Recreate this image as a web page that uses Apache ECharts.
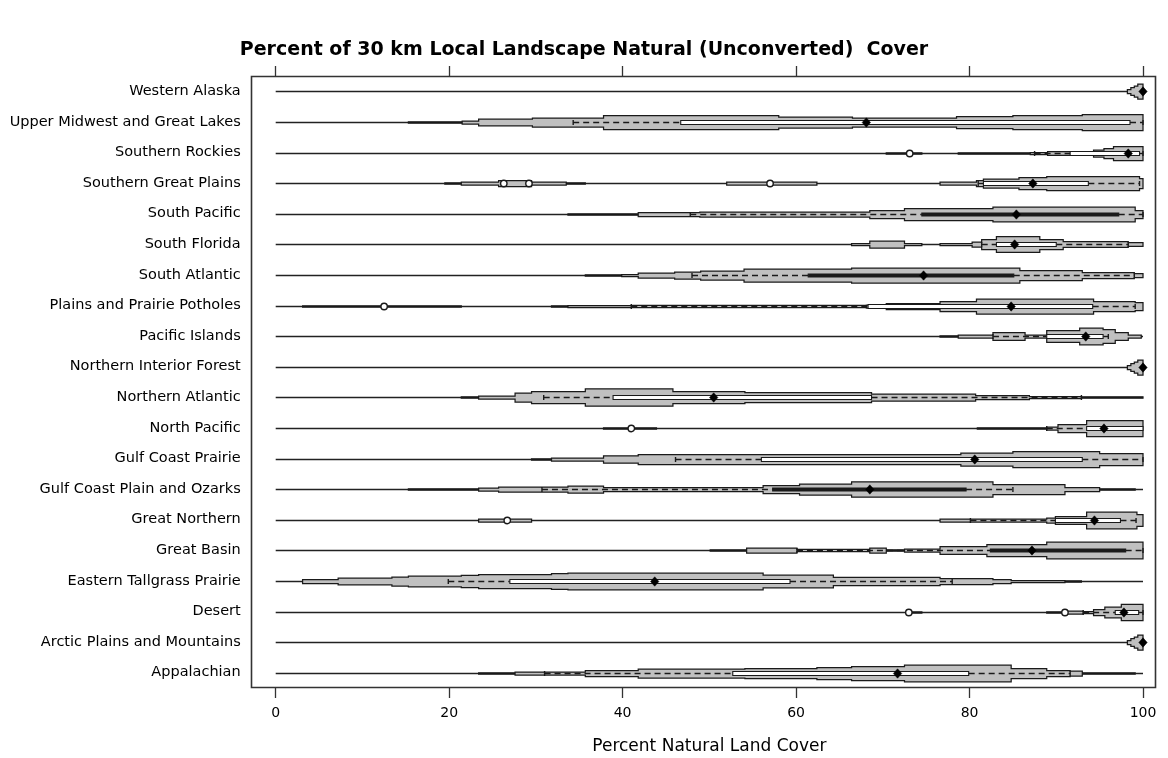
<!DOCTYPE html>
<html>
<head>
<meta charset="utf-8">
<title>Percent of 30 km Local Landscape Natural (Unconverted) Cover</title>
<script src="https://cdn.jsdelivr.net/npm/echarts@6/dist/echarts.min.js"></script>
<style>
  html, body { margin: 0; padding: 0; background: #fff; }
  #chart { width: 1168px; height: 758px; }
</style>
</head>
<body>
<div id="chart"></div>
<script>
// Regions, listed top to bottom
const regions = [
  'Western Alaska', 'Upper Midwest and Great Lakes', 'Southern Rockies',
  'Southern Great Plains', 'South Pacific', 'South Florida', 'South Atlantic',
  'Plains and Prairie Potholes', 'Pacific Islands', 'Northern Interior Forest',
  'Northern Atlantic', 'North Pacific', 'Gulf Coast Prairie',
  'Gulf Coast Plain and Ozarks', 'Great Northern', 'Great Basin',
  'Eastern Tallgrass Prairie', 'Desert', 'Arctic Plains and Mountains', 'Appalachian'
];

// Box-plot summaries (percent natural land cover)
const medians   = [100, 68.1, 98.3, 87.3, 85.4, 85.2, 74.7, 84.8, 93.4, 100, 50.5, 95.5, 80.6, 68.5, 94.4, 87.2, 43.7, 97.8, 100, 71.7];
const lowerQ    = [null, 46.7, 91.6, 81.6, 74.5, 83.1, 61.4, 68.3, 88.9, null, 38.9, 93.5, 56.0, 57.3, 89.9, 82.4, 27.0, 96.8, null, 52.7];
const upperQ    = [null, 98.5, 99.6, 93.7, 97.2, 90.0, 85.1, 94.2, 95.4, null, 68.7, 100, 93.0, 79.6, 97.4, 98.0, 59.3, 99.5, null, 79.9];
const whiskerLo = [null, 34.3, 87.5, 81.0, 47.8, 81.4, 48.0, 41.0, 82.7, null, 30.9, 88.9, 46.1, 30.7, 80.1, 60.1, 19.9, 93.1, null, 31.0];
const whiskerHi = [null, 100, 100, 99.6, 100, 98.3, 99.0, 99.1, 96.0, null, 92.9, 100, 100, 85.0, 99.2, 100, 78.0, 100, null, 91.6];

// Outlying landscapes
const outliers = [
  [], [], [73.1], [26.3, 29.2, 57.0], [], [], [], [12.5], [], [],
  [], [41.0], [], [], [26.7], [], [], [73.0, 91.0], [], []
];

// Density histogram bins: [from, to, relative density]
const density = [
  [[98.2, 98.6, 2], [98.6, 99.0, 3.8], [99.0, 99.4, 5.5], [99.4, 100, 7.5]],
  [[15.3, 21.5, 0.7], [21.5, 23.4, 1.5], [23.4, 29.6, 3.3], [29.6, 37.8, 4.5], [37.8, 58, 7], [58, 66.5, 5.5], [66.5, 78.5, 4.5], [78.5, 85, 6], [85, 93, 7], [93, 100, 8]],
  [[70.4, 74.5, 0.6], [78.7, 87, 0.6], [87, 89, 1], [89, 94.3, 1.8], [94.3, 95.5, 3.5], [95.5, 96.6, 5], [96.6, 100, 7]],
  [[19.5, 21.4, 0.6], [21.4, 25.7, 1.5], [25.7, 29.5, 3], [29.5, 33.5, 1.5], [33.5, 35.7, 0.6], [52, 62.4, 1.5], [76.6, 80.8, 1.5], [80.8, 81.6, 3], [81.6, 85.7, 4.5], [85.7, 88.9, 6], [88.9, 99.6, 7], [99.6, 100, 5]],
  [[33.7, 41.8, 0.6], [41.8, 48.9, 2], [48.9, 68.5, 2.5], [68.5, 72.5, 4], [72.5, 82.7, 6], [82.7, 99.1, 7.3], [99.1, 100, 4]],
  [[66.4, 68.5, 1], [68.5, 72.5, 3.5], [72.5, 74.5, 1], [76.6, 80.3, 1], [80.3, 81.4, 2.5], [81.4, 83.1, 5], [83.1, 88.1, 7.8], [88.1, 90.8, 5], [90.8, 98.3, 2.8], [98.3, 100, 1.8]],
  [[35.7, 39.9, 0.6], [39.9, 41.8, 1], [41.8, 46, 2.5], [46, 49, 3.5], [49, 54, 4.5], [54, 66.4, 6.5], [66.4, 85.8, 7.5], [85.8, 93, 5], [93, 99, 3], [99, 100, 2]],
  [[3.1, 21.4, 0.6], [31.8, 33.7, 0.6], [33.7, 41, 1], [41, 68.1, 1.2], [68.1, 70.4, 1.5], [70.4, 76.6, 3], [76.6, 80.8, 5], [80.8, 94.3, 7.5], [94.3, 99.1, 5], [99.1, 100, 4]],
  [[76.6, 78.7, 0.6], [78.7, 82.7, 1.5], [82.7, 86.4, 3.8], [86.4, 88.9, 1.5], [88.9, 92.7, 5.8], [92.7, 95.4, 8.3], [95.4, 96.8, 6.8], [96.8, 98.3, 3.8], [98.3, 99.8, 1.5]],
  [[98.2, 98.6, 2], [98.6, 99.0, 3.8], [99.0, 99.4, 5.5], [99.4, 100, 7.5]],
  [[21.4, 23.4, 0.6], [23.4, 27.6, 1.5], [27.6, 29.5, 4.5], [29.5, 35.7, 6], [35.7, 45.8, 8.7], [45.8, 54.1, 6], [54.1, 68.7, 5], [68.7, 80.7, 3.5], [80.7, 86.9, 2], [86.9, 92.9, 1], [92.9, 100, 0.6]],
  [[37.8, 43.9, 0.6], [80.9, 88.9, 0.6], [88.9, 90.2, 1.5], [90.2, 93.5, 4], [93.5, 100, 8]],
  [[29.5, 31.8, 0.6], [31.8, 37.8, 1.5], [37.8, 41.8, 3.7], [41.8, 79, 5], [79, 85, 6.5], [85, 95, 8], [95, 100, 6]],
  [[15.3, 23.4, 0.6], [23.4, 25.7, 1.5], [25.7, 33.7, 2.5], [33.7, 37.8, 3.5], [37.8, 56.2, 2], [56.2, 60.4, 4], [60.4, 66.4, 5.5], [66.4, 82.7, 7.7], [82.7, 91, 5], [91, 95, 2], [95, 99.1, 0.6]],
  [[23.4, 29.5, 1.5], [76.6, 88.9, 1.5], [88.9, 89.9, 2.5], [89.9, 93.5, 3.8], [93.5, 99.3, 8.3], [99.3, 100, 5.8]],
  [[50.1, 54.3, 0.6], [54.3, 60.1, 2.5], [60.1, 68.5, 1.2], [68.5, 70.4, 2.5], [70.4, 72.5, 0.6], [72.5, 76.6, 1.5], [76.6, 82, 3.8], [82, 88.9, 6], [88.9, 100, 8.3]],
  [[3.1, 7.2, 2], [7.2, 13.4, 3.3], [13.4, 15.3, 4.5], [15.3, 21.4, 5.3], [21.4, 23.4, 6.2], [23.4, 31.8, 7], [31.8, 33.7, 7.8], [33.7, 56.2, 8.3], [56.2, 64.3, 6.3], [64.3, 76.6, 4.2], [76.6, 82.7, 3], [82.7, 84.8, 2], [84.8, 91, 1], [91, 92.9, 0.6]],
  [[73, 74.5, 0.6], [88.9, 91, 0.6], [91, 93.1, 1.5], [93.1, 94.3, 1], [94.3, 95.6, 3], [95.6, 97.5, 5.3], [97.5, 100, 8.2]],
  [[98.2, 98.6, 2], [98.6, 99.0, 3.8], [99.0, 99.4, 5.5], [99.4, 100, 7.5]],
  [[23.4, 27.6, 0.6], [27.6, 35.7, 1.5], [35.7, 41.8, 3], [41.8, 54.1, 4.5], [54.1, 62.4, 5], [62.4, 66.4, 6], [66.4, 72.5, 7], [72.5, 84.8, 8.3], [84.8, 88.9, 5], [88.9, 91.6, 3], [91.6, 93, 2.5], [93, 99.1, 0.6]]
];

const xTicks = [0, 20, 40, 60, 80, 100];

// Regions whose interquartile box is drawn filled
const filledBoxes = new Set(['South Pacific', 'South Atlantic', 'Gulf Coast Plain and Ozarks', 'Great Basin']);

const INK = '#1a1a1a';
const VIOLIN = '#c0c0c0';

function renderRow(params, api) {
  const i = params.dataIndex;
  const band = api.size([0, 1])[1];
  const k = band / 30.6;
  const cy = Math.round(api.coord([0, i])[1]) + 0.5;
  const X = v => api.coord([v, i])[0];
  const kids = [];

  // reference line across the full range
  kids.push({ type: 'line', shape: { x1: X(0), y1: cy, x2: X(100), y2: cy },
              style: { stroke: '#222', lineWidth: 1.3 } });

  // density outline, split into contiguous runs
  const bins = density[i];
  let run = [];
  const flush = () => {
    if (!run.length) return;
    const top = [], bot = [];
    run.forEach(([a, b, d]) => {
      const h = d * k;
      top.push([X(a), cy - h], [X(b), cy - h]);
      bot.push([X(a), cy + h], [X(b), cy + h]);
    });
    kids.push({ type: 'polygon', shape: { points: top.concat(bot.reverse()) },
                style: { fill: VIOLIN, stroke: INK, lineWidth: 1.25 } });
    run = [];
  };
  bins.forEach(bin => {
    if (run.length && Math.abs(run[run.length - 1][1] - bin[0]) > 0.01) flush();
    run.push(bin);
  });
  flush();

  // whiskers and interquartile box
  if (lowerQ[i] != null) {
    const dash = { stroke: INK, lineWidth: 1.4, lineDash: [6, 4] };
    const q1 = X(lowerQ[i]), q3 = X(upperQ[i]);
    const wl = X(whiskerLo[i]), wh = X(whiskerHi[i]);
    if (wl < q1) {
      kids.push({ type: 'line', shape: { x1: wl, y1: cy, x2: q1, y2: cy }, style: dash });
      kids.push({ type: 'line', shape: { x1: wl, y1: cy - 2.5, x2: wl, y2: cy + 2.5 }, style: { stroke: INK, lineWidth: 1.4 } });
    }
    if (wh > q3) {
      kids.push({ type: 'line', shape: { x1: q3, y1: cy, x2: wh, y2: cy }, style: dash });
      kids.push({ type: 'line', shape: { x1: wh, y1: cy - 2.5, x2: wh, y2: cy + 2.5 }, style: { stroke: INK, lineWidth: 1.4 } });
    }
    const solid = filledBoxes.has(regions[i]);
    kids.push({ type: 'rect',
                shape: { x: q1, y: cy - (solid ? 1.5 : 2), width: q3 - q1, height: solid ? 3 : 4 },
                style: { fill: solid ? INK : '#fff', stroke: INK, lineWidth: 1.1 } });
  }

  // outlying values
  outliers[i].forEach(v => {
    kids.push({ type: 'circle', shape: { cx: X(v), cy: cy, r: 3.2 },
                style: { fill: '#fff', stroke: INK, lineWidth: 1.4 } });
  });

  // median marker
  const mx = X(medians[i]);
  kids.push({ type: 'polygon',
              shape: { points: [[mx - 4.2, cy], [mx, cy - 4.7], [mx + 4.2, cy], [mx, cy + 4.7]] },
              style: { fill: '#000', stroke: '#000', lineWidth: 0.5 } });

  return { type: 'group', children: kids };
}

const chart = echarts.init(document.getElementById('chart'), null, { renderer: 'canvas' });

const GRID = { left: 275.7, right: 25, top: 76, bottom: 70, outerBoundsMode: 'none', containLabel: false };

chart.setOption({
  animation: false,
  backgroundColor: '#fff',
  textStyle: { fontFamily: 'DejaVu Sans' },
  title: {
    text: 'Percent of 30 km Local Landscape Natural (Unconverted)  Cover',
    left: 'center',
    top: 36,
    textStyle: { fontFamily: 'DejaVu Sans', fontWeight: 'bold', fontSize: 19, color: '#000' }
  },
  grid: GRID,
  xAxis: [
    {
      type: 'value', position: 'bottom', min: 0, max: 100, interval: 20,
      axisLine: { show: false },
      axisTick: { show: true, inside: false, length: 10, lineStyle: { color: '#333', width: 1.3 },
                  customValues: xTicks },
      axisLabel: { color: '#000', fontSize: 14, margin: 18, customValues: xTicks },
      splitLine: { show: false },
      name: 'Percent Natural Land Cover',
      nameLocation: 'middle', nameGap: 50,
      nameTextStyle: { color: '#000', fontSize: 17 }
    },
    {
      type: 'value', position: 'top', min: 0, max: 100, interval: 20,
      axisLine: { show: false },
      axisTick: { show: true, inside: false, length: 10, lineStyle: { color: '#333', width: 1.3 },
                  customValues: xTicks },
      axisLabel: { show: false },
      splitLine: { show: false }
    }
  ],
  yAxis: {
    type: 'category', data: regions, inverse: true,
    axisLine: { show: false }, axisTick: { show: false },
    axisLabel: { color: '#000', fontSize: 14.5, margin: 35 },
    splitLine: { show: false }
  },
  graphic: [{
    type: 'rect', silent: true, z: 100,
    shape: { x: 251.5, y: 76.5, width: 904, height: 611 },
    style: { fill: 'none', stroke: '#333', lineWidth: 1.6 }
  }],
  series: [{
    type: 'custom', name: 'Natural cover',
    xAxisIndex: 0, yAxisIndex: 0,
    coordinateSystem: 'cartesian2d',
    clip: false, silent: true,
    encode: { x: 0, y: 1 },
    data: regions.map((_, i) => [0, i]),
    renderItem: renderRow
  }]
});
</script>
</body>
</html>
